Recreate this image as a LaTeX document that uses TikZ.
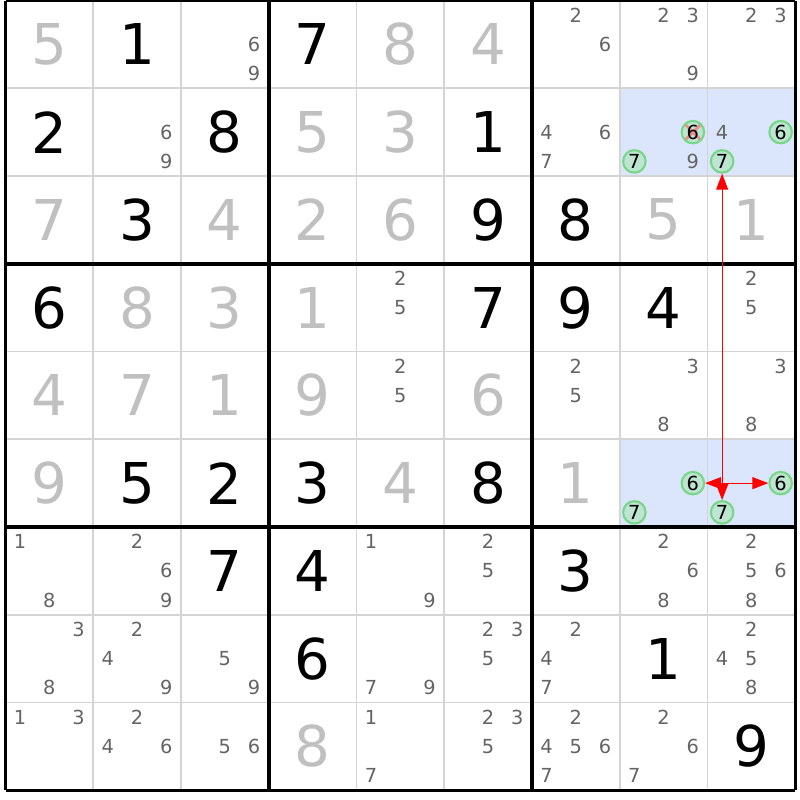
\documentclass[tikz,border=0pt]{standalone}
\usepackage{fontspec}
\setmainfont{DejaVu Sans}
\usetikzlibrary{arrows.meta}
\definecolor{solvedgray}{RGB}{192,192,192}
\definecolor{candgray}{RGB}{100,100,100}
\definecolor{hlblue}{RGB}{219,229,252}
\definecolor{gridgray}{RGB}{212,212,212}
\definecolor{circfill}{RGB}{190,228,210}
\definecolor{circdraw}{RGB}{120,215,135}
\definecolor{crossred}{RGB}{240,140,140}
\tikzset{
 given/.style={inner sep=0pt, font=\fontsize{16}{16}\selectfont, text=black},
 solved/.style={given, text=solvedgray},
 cand/.style={inner sep=0pt, font=\fontsize{5.5}{5.5}\selectfont, text=candgray},
 circ/.style={cand, text=black, circle, draw=circdraw, fill=circfill, line width=0.6pt, minimum size=0.225cm},
 crossed/.style={path picture={\draw[crossred, line width=0.8pt]
   ([shift={(-0.075cm,-0.075cm)}]path picture bounding box.center) -- ([shift={(0.075cm,0.075cm)}]path picture bounding box.center)
   ([shift={(-0.075cm,0.075cm)}]path picture bounding box.center) -- ([shift={(0.075cm,-0.075cm)}]path picture bounding box.center);}},
 link/.style={red, line width=0.3pt, -{Triangle[length=0.16cm,width=0.12cm]}},
 thinline/.style={gridgray, line width=0.55pt},
 thickline/.style={black, line width=1pt},
}
\begin{document}
\begin{tikzpicture}[x=0.01cm,y=-0.01cm]
\useasboundingbox (0,0) rectangle (800,800);
% highlighted cells
\foreach \r/\c in {2/8,2/9,6/8,6/9}
  \fill[hlblue] ({5.5+(\c-1)*87.75},{0.5+(\r-1)*87.75}) rectangle ++(87.75,87.75);
% grid
\foreach \i in {1,2,4,5,7,8} {
  \draw[thinline] ({5.5+\i*87.75},0.5) -- ++(0,789.75);
  \draw[thinline] (5.5,{0.5+\i*87.75}) -- ++(789.75,0);
}
\foreach \i in {0,3,6,9} {
  \draw[thickline] ({5.5+\i*87.75},0.5) -- ++(0,789.75);
  \draw[thickline] (5.5,{0.5+\i*87.75}) -- ++(789.75,0);
}
% givens
\foreach \r/\c/\d in {1/2/1,1/4/7,2/1/2,2/3/8,2/6/1,3/2/3,3/6/9,3/7/8,
  4/1/6,4/6/7,4/7/9,4/8/4,6/2/5,6/3/2,6/4/3,6/6/8,7/3/7,7/4/4,7/7/3,8/4/6,8/8/1,9/9/9}
  \node[given] (v\r\c) at ({5.5+(\c-0.5)*87.75},{0.5+(\r-0.5)*87.75}) {\d};
% solved
\foreach \r/\c/\d in {1/1/5,1/5/8,1/6/4,2/4/5,2/5/3,3/1/7,3/3/4,3/4/2,3/5/6,3/8/5,3/9/1,
  4/2/8,4/3/3,4/4/1,5/1/4,5/2/7,5/3/1,5/4/9,5/6/6,6/1/9,6/5/4,6/7/1,9/4/8}
  \node[solved] (v\r\c) at ({5.5+(\c-0.5)*87.75},{0.5+(\r-0.5)*87.75}) {\d};
% candidates
\foreach \r/\c/\L in {1/3/{6,9},1/7/{2,6},1/8/{2,3,9},1/9/{2,3},
  2/2/{6,9},2/7/{4,6,7},2/8/{9},2/9/{4},
  4/5/{2,5},4/9/{2,5},5/5/{2,5},5/7/{2,5},5/8/{3,8},5/9/{3,8},
  7/1/{1,8},7/2/{2,6,9},7/5/{1,9},7/6/{2,5},7/8/{2,6,8},7/9/{2,5,6,8},
  8/1/{3,8},8/2/{2,4,9},8/3/{5,9},8/5/{7,9},8/6/{2,3,5},8/7/{2,4,7},8/9/{2,4,5,8},
  9/1/{1,3},9/2/{2,4,6},9/3/{5,6},9/5/{1,7},9/6/{2,3,5},9/7/{2,4,5,6,7},9/8/{2,6,7}}
  \foreach \d in \L {
    \pgfmathtruncatemacro\k{mod(\d-1,3)}
    \pgfmathtruncatemacro\j{int((\d-1)/3)}
    \node[cand] (c\r\c\d) at ({5.5+(\c-1)*87.75+(\k+0.5)*29.25},{0.5+(\r-1)*87.75+(\j+0.5)*29.25}) {\d};
  }
% circled candidates
\foreach \r/\c/\d/\extra in {2/8/6/crossed,2/8/7/,2/9/6/,2/9/7/,6/8/6/,6/8/7/,6/9/6/,6/9/7/} {
    \pgfmathtruncatemacro\k{mod(\d-1,3)}
    \pgfmathtruncatemacro\j{int((\d-1)/3)}
    \node[circ,\extra] (k\r\c\d) at ({5.5+(\c-1)*87.75+(\k+0.5)*29.25},{0.5+(\r-1)*87.75+(\j+0.5)*29.25}) {\d};
}
% links
\coordinate (J) at (k297 |- k696);
\draw[link] (J) -- (k297);
\draw[link] (J) -- (k686);
\draw[link] (J) -- (k696);
\draw[link] (J) -- (k697);
\end{tikzpicture}
\end{document}
